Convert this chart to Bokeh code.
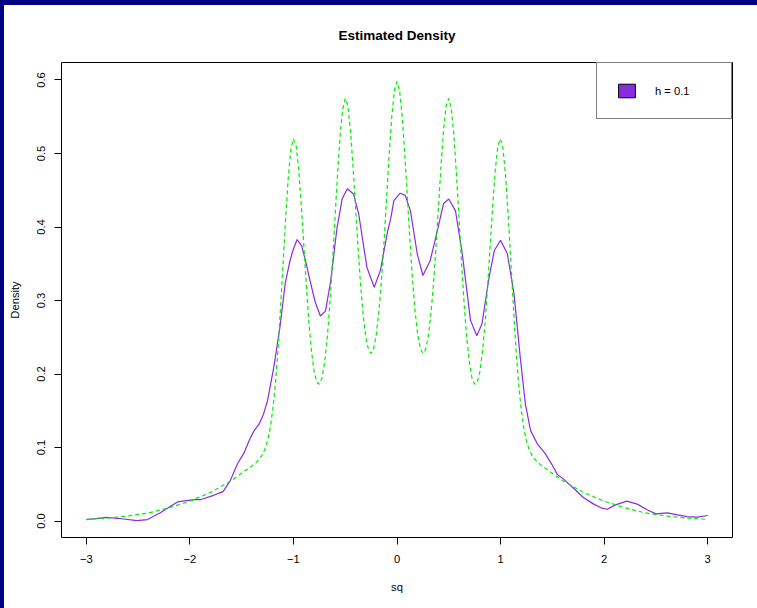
from bokeh.plotting import figure
from bokeh.models import Range1d, FixedTicker, PrintfTickFormatter, Legend, LegendItem, Div
from bokeh.layouts import column, row
from bokeh.embed import file_html
from bokeh.resources import INLINE

# ---- data ----
# true density (green dashed), symmetric: values for x >= 0
true_x_half = [0, 0.025, 0.05, 0.075, 0.1, 0.125, 0.15, 0.175, 0.2, 0.225, 0.25, 0.275, 0.3, 0.325,
               0.35, 0.375, 0.4, 0.425, 0.45, 0.475, 0.5, 0.525, 0.55, 0.575, 0.6, 0.625, 0.65, 0.675,
               0.7, 0.725, 0.75, 0.775, 0.8, 0.825, 0.85, 0.875, 0.9, 0.925, 0.95, 0.975, 1.0, 1.025,
               1.05, 1.075, 1.1, 1.125, 1.15, 1.175, 1.2, 1.225, 1.25, 1.275, 1.3, 1.35, 1.4, 1.45,
               1.5, 1.6, 1.7, 1.8, 1.9, 2.0, 2.2, 2.4, 2.6, 2.8, 3.0]
true_y_half = [0.598, 0.586, 0.551, 0.500, 0.441, 0.381, 0.328, 0.285, 0.254, 0.235, 0.228, 0.233,
               0.249, 0.278, 0.318, 0.369, 0.426, 0.483, 0.532, 0.565, 0.575, 0.560, 0.524, 0.470,
               0.409, 0.347, 0.292, 0.247, 0.215, 0.194, 0.186, 0.189, 0.203, 0.230, 0.269, 0.319,
               0.375, 0.431, 0.479, 0.511, 0.520, 0.505, 0.467, 0.413, 0.351, 0.289, 0.232, 0.186,
               0.151, 0.126, 0.109, 0.098, 0.090, 0.081, 0.075, 0.070, 0.065, 0.055, 0.047, 0.039,
               0.033, 0.027, 0.018, 0.011, 0.0068, 0.0040, 0.0022]

# kernel estimate, h = 0.1 (purple)
est_x = [-3.0, -2.80, -2.64, -2.51, -2.41, -2.29, -2.12, -1.96, -1.90, -1.77, -1.68, -1.61, -1.54,
         -1.48, -1.42, -1.38, -1.335, -1.29, -1.25, -1.19, -1.13, -1.08, -1.04, -1.01, -0.965, -0.92,
         -0.88, -0.84, -0.79, -0.74, -0.69, -0.64, -0.58, -0.53, -0.48, -0.42, -0.37, -0.33, -0.29,
         -0.22, -0.16, -0.095, -0.06, -0.03, 0.03, 0.08, 0.13, 0.195, 0.25, 0.32, 0.39, 0.45, 0.50,
         0.565, 0.63, 0.71, 0.77, 0.82, 0.89, 0.94, 1.0, 1.065, 1.13, 1.19, 1.24, 1.29, 1.355, 1.43,
         1.50, 1.55, 1.61, 1.71, 1.80, 1.90, 1.97, 2.03, 2.11, 2.22, 2.32, 2.42, 2.50, 2.61, 2.71,
         2.80, 2.90, 3.0]
est_y = [0.002, 0.005, 0.0028, 0.0005, 0.002, 0.011, 0.026, 0.029, 0.029, 0.035, 0.040, 0.055, 0.078,
         0.092, 0.112, 0.123, 0.131, 0.145, 0.164, 0.209, 0.264, 0.323, 0.350, 0.366, 0.383, 0.374,
         0.352, 0.327, 0.298, 0.279, 0.286, 0.327, 0.398, 0.438, 0.452, 0.445, 0.418, 0.381, 0.345,
         0.318, 0.341, 0.391, 0.412, 0.436, 0.446, 0.443, 0.422, 0.364, 0.334, 0.354, 0.395, 0.432,
         0.438, 0.422, 0.364, 0.273, 0.252, 0.268, 0.332, 0.368, 0.382, 0.364, 0.309, 0.223, 0.159,
         0.123, 0.105, 0.092, 0.076, 0.063, 0.057, 0.044, 0.032, 0.023, 0.018, 0.016, 0.022, 0.027,
         0.023, 0.015, 0.0098, 0.011, 0.0084, 0.0061, 0.0052, 0.0075]

x_ticks = [-3, -2, -1, 0, 1, 2, 3]
x_tick_labels = ["\u22123", "\u22122", "\u22121", "0", "1", "2", "3"]
y_ticks = [0.0, 0.1, 0.2, 0.3, 0.4, 0.5, 0.6]
legend_label = "h = 0.1"
title_text = "Estimated Density"
x_label = "sq"
y_label = "Density"

true_x = [-v for v in reversed(true_x_half[1:])] + true_x_half
true_y = list(reversed(true_y_half[1:])) + true_y_half

FONT = "Liberation Sans"
PURPLE = "#8A2BE2"
GREEN = "#00EE00"
NAVY = "#000080"

p = figure(width=753, height=603, output_backend="svg", toolbar_location=None,
           x_range=Range1d(-3.24, 3.24), y_range=Range1d(-0.0224, 0.6238),
           min_border_left=57, min_border_right=25, min_border_top=57, min_border_bottom=71,
           title=title_text, margin=0)
p.background_fill_color = "white"
p.border_fill_color = "white"
p.outline_line_color = "black"
p.outline_line_width = 1
p.grid.visible = False

p.title.align = "center"
p.title.text_font = FONT
p.title.text_font_size = "13.5px"
p.title.text_font_style = "bold"
p.title.text_color = "black"
p.title.standoff = 39

for ax in (p.xaxis[0], p.yaxis[0]):
    ax.major_tick_out = 7
    ax.major_tick_in = 0
    ax.minor_tick_out = 0
    ax.minor_tick_in = 0
    ax.axis_line_color = "black"
    ax.major_tick_line_color = "black"
    ax.major_label_text_font = FONT
    ax.major_label_text_font_size = "11.2px"
    ax.major_label_text_color = "black"
    ax.axis_label_text_font = FONT
    ax.axis_label_text_font_size = "11.2px"
    ax.axis_label_text_font_style = "normal"
    ax.axis_label_text_color = "black"

p.xaxis.ticker = FixedTicker(ticks=x_ticks)
p.xaxis.major_label_overrides = {t: s for t, s in zip(x_ticks, x_tick_labels)}
p.xaxis.bounds = (x_ticks[0], x_ticks[-1])
p.xaxis.axis_label = x_label
p.xaxis.major_label_standoff = 10
p.xaxis.axis_label_standoff = 15

p.yaxis.ticker = FixedTicker(ticks=y_ticks)
p.yaxis.formatter = PrintfTickFormatter(format="%.1f")
p.yaxis.bounds = (y_ticks[0], y_ticks[-1])
p.yaxis.axis_label = y_label
p.yaxis.major_label_orientation = "vertical"
p.yaxis.major_label_standoff = 9
p.yaxis.axis_label_standoff = 14

p.line(est_x, est_y, line_color=PURPLE, line_width=1.2)
p.line(true_x, true_y, line_color=GREEN, line_width=1.2, line_dash="4 3")

nan = float("nan")
key = p.quad(left=[nan], right=[nan], top=[nan], bottom=[nan],
             fill_color=PURPLE, line_color="black", line_width=1)
legend = Legend(items=[LegendItem(label=legend_label, renderers=[key])],
                location="top_right", margin=0, padding=19, glyph_width=21, glyph_height=17,
                label_height=17, label_width=57, label_standoff=18,
                label_text_font=FONT, label_text_font_size="11.2px", label_text_color="black",
                border_line_color="black", border_line_width=1, background_fill_color="white",
                background_fill_alpha=1.0)
p.add_layout(legend, "center")

top_band = Div(width=757, height=5, margin=0, styles={"background-color": NAVY})
left_band = Div(width=4, height=603, margin=0, styles={"background-color": NAVY})
layout = column(top_band, row(left_band, p, spacing=0, margin=0), spacing=0, margin=0)

open("out.html", "w").write(file_html(layout, INLINE))
